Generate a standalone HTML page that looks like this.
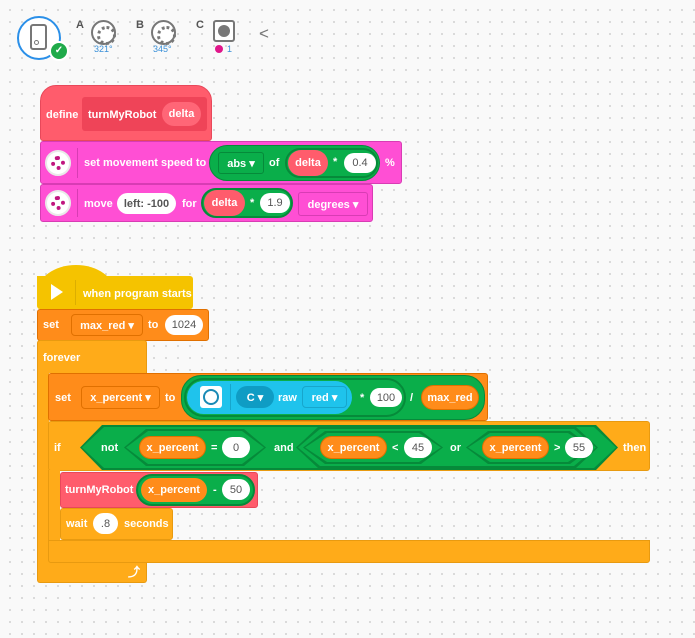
<!DOCTYPE html>
<html><head><meta charset="utf-8"><style>
*{margin:0;padding:0;box-sizing:border-box}
body{width:695px;height:638px;overflow:hidden;position:relative;background:#f9f9f9;
background-image:radial-gradient(circle,#d4d4d4 0.8px,transparent 1.2px);background-size:12px 12px;background-position:4px 4px;
font-family:"Liberation Sans",sans-serif;font-weight:bold;font-size:11px;color:#fff}
.a{position:absolute}
.t{position:absolute;white-space:nowrap;line-height:14px}
.pill{position:absolute;border-radius:20px;display:flex;align-items:center;justify-content:center;white-space:nowrap}
.w{background:#fff;color:#555;font-weight:normal}
.hex{position:absolute;clip-path:polygon(0 50%,22px 0,calc(100% - 22px) 0,100% 50%,calc(100% - 22px) 100%,22px 100%)}
.mot{position:absolute;width:25px;height:25px;border-radius:50%;border:2px solid #777;background:#fff}
.mot::before{content:"";position:absolute;left:4px;top:4px;width:13px;height:13px;border-radius:50%;border:3.5px dotted #777}
</style></head><body>

<!-- header -->
<div class="a" style="left:17px;top:16px;width:44px;height:44px;border-radius:50%;border:2px solid #2a8fe8;background:#fff"></div>
<div class="a" style="left:30px;top:24px;width:17px;height:26px;border:2px solid #777;border-radius:3px"></div>
<div class="a" style="left:34px;top:40px;width:5px;height:5px;border:1.5px solid #777;border-radius:50%"></div>
<div class="a" style="left:49px;top:41px;width:20px;height:20px;border-radius:50%;background:#1faa4a;border:2px solid #fff;font-size:10px;text-align:center;line-height:16px">✓</div>
<div class="t" style="left:76px;top:18px;color:#555;font-size:11px">A</div>
<div class="mot" style="left:91px;top:20px"></div>
<div class="t" style="left:94px;top:42px;color:#3a90d8;font-size:9px;font-weight:normal">321°</div>
<div class="t" style="left:136px;top:18px;color:#555;font-size:11px">B</div>
<div class="mot" style="left:151px;top:20px"></div>
<div class="t" style="left:153px;top:42px;color:#3a90d8;font-size:9px;font-weight:normal">345°</div>
<div class="t" style="left:196px;top:18px;color:#555;font-size:11px">C</div>
<div class="a" style="left:213px;top:20px;width:22px;height:22px;border:2px solid #777;border-radius:3px;background:#fff"></div>
<div class="a" style="left:218px;top:25px;width:12px;height:12px;border-radius:50%;background:#777"></div>
<div class="a" style="left:215px;top:45px;width:8px;height:8px;border-radius:50%;background:#e0168a"></div>
<div class="t" style="left:227px;top:42px;color:#3a90d8;font-size:9px;font-weight:normal">1</div>
<div class="t" style="left:259px;top:27px;color:#777;font-size:17px;font-weight:normal">&lt;</div>

<!-- define -->
<div class="a" style="left:40px;top:85px;width:172px;height:56px;background:#ff5c6c;border-radius:16px 16px 3px 3px;border:1px solid #e8485a"></div>
<div class="a" style="left:82px;top:97px;width:125px;height:34px;background:#ef4458;border-radius:3px"></div>
<div class="t" style="left:46px;top:108px">define</div>
<div class="t" style="left:88px;top:108px">turnMyRobot</div>
<div class="pill" style="left:162px;top:102px;width:39px;height:24px;background:#ff6677">delta</div>

<!-- set movement speed -->
<div class="a" style="left:40px;top:141px;width:362px;height:43px;background:#ff4fd4;border:1px solid #d83cb4;border-radius:3px"></div>
<div class="a" style="left:45px;top:150px;width:26px;height:26px;border-radius:50%;background:#fff;border:2px solid #e9e9e9"></div>
<div class="a" style="left:51px;top:156px;width:14px;height:14px;border-radius:50%;border:4px dotted #c0157f"></div>
<div class="a" style="left:77px;top:148px;width:1px;height:30px;background:#d83cb4"></div>
<div class="t" style="left:84px;top:156px">set movement speed to</div>
<div class="pill" style="left:209px;top:145px;width:171px;height:36px;background:#0aae4a;border:1px solid #068a3a"></div>
<div class="pill" style="left:218px;top:152px;width:46px;height:22px;background:#0aae4a;border:1px solid #068a3a;border-radius:3px">abs ▾</div>
<div class="t" style="left:269px;top:156px">of</div>
<div class="pill" style="left:285px;top:148px;width:93px;height:30px;background:#0aae4a;border:2px solid #068a3a"></div>
<div class="pill" style="left:288px;top:150px;width:40px;height:26px;background:#ff5c6c">delta</div>
<div class="t" style="left:333px;top:155px">*</div>
<div class="pill w" style="left:344px;top:153px;width:32px;height:20px">0.4</div>
<div class="t" style="left:385px;top:156px">%</div>

<!-- move -->
<div class="a" style="left:40px;top:184px;width:333px;height:38px;background:#ff4fd4;border:1px solid #d83cb4;border-radius:3px"></div>
<div class="a" style="left:45px;top:190px;width:26px;height:26px;border-radius:50%;background:#fff;border:2px solid #e9e9e9"></div>
<div class="a" style="left:51px;top:196px;width:14px;height:14px;border-radius:50%;border:4px dotted #c0157f"></div>
<div class="a" style="left:77px;top:189px;width:1px;height:28px;background:#d83cb4"></div>
<div class="t" style="left:84px;top:197px">move</div>
<div class="pill w" style="left:117px;top:193px;width:59px;height:21px;color:#555;font-weight:bold">left: -100</div>
<div class="t" style="left:182px;top:197px">for</div>
<div class="pill" style="left:201px;top:188px;width:92px;height:30px;background:#0aae4a;border:2px solid #068a3a"></div>
<div class="pill" style="left:204px;top:190px;width:41px;height:26px;background:#ff5c6c">delta</div>
<div class="t" style="left:250px;top:196px">*</div>
<div class="pill w" style="left:260px;top:193px;width:30px;height:20px">1.9</div>
<div class="pill" style="left:298px;top:192px;width:70px;height:24px;background:#ff4fd4;border:1px solid #d83cb4;border-radius:3px">degrees ▾</div>

<!-- when program starts -->
<div class="a" style="left:37px;top:265px;width:78px;height:28px;background:#f5c300;border-radius:50% 50% 0 0 / 100% 100% 0 0"></div>
<div class="a" style="left:37px;top:276px;width:156px;height:33px;background:#f5c300;border-radius:0 3px 3px 3px"></div>
<div class="a" style="left:51px;top:284px;width:0;height:0;border-left:12px solid #fff;border-top:8px solid transparent;border-bottom:8px solid transparent"></div>
<div class="a" style="left:75px;top:280px;width:1px;height:25px;background:#dcae00"></div>
<div class="t" style="left:83px;top:287px;font-size:11px">when program starts</div>

<!-- set max_red -->
<div class="a" style="left:37px;top:309px;width:172px;height:32px;background:#ff8c1a;border:1px solid #e07000;border-radius:3px"></div>
<div class="t" style="left:43px;top:318px">set</div>
<div class="pill" style="left:71px;top:314px;width:72px;height:22px;background:#ff8c1a;border:1px solid #e07000;border-radius:4px">max_red ▾</div>
<div class="t" style="left:148px;top:318px">to</div>
<div class="pill w" style="left:165px;top:315px;width:38px;height:20px">1024</div>

<!-- forever -->
<div class="a" style="left:37px;top:340px;width:110px;height:33px;background:#ffab19;border:1px solid #e89a10;border-bottom:none;border-radius:3px 3px 0 0"></div>
<div class="a" style="left:37px;top:372px;width:12px;height:200px;background:#ffab19;border-left:1px solid #e89a10"></div>
<div class="a" style="left:37px;top:562px;width:110px;height:21px;background:#ffab19;border:1px solid #e89a10;border-top:none;border-radius:0 0 3px 3px"></div>
<div class="t" style="left:43px;top:351px">forever</div>
<div class="t" style="left:128px;top:565px;font-size:12px">⤴</div>

<!-- set x_percent -->
<div class="a" style="left:48px;top:373px;width:440px;height:48px;background:#ff8c1a;border:1px solid #e07000;border-radius:3px"></div>
<div class="t" style="left:55px;top:391px">set</div>
<div class="pill" style="left:81px;top:386px;width:79px;height:23px;background:#ff8c1a;border:1px solid #e07000;border-radius:4px">x_percent ▾</div>
<div class="t" style="left:165px;top:391px">to</div>
<div class="pill" style="left:181px;top:375px;width:304px;height:45px;background:#0aae4a;border:1px solid #068a3a"></div>
<div class="pill" style="left:184px;top:378px;width:222px;height:39px;background:#0aae4a;border:2px solid #068a3a"></div>
<div class="pill" style="left:187px;top:381px;width:165px;height:33px;background:#1fc3ec"></div>
<div class="a" style="left:200px;top:386px;width:22px;height:22px;background:#fff;border-radius:3px"></div>
<div class="a" style="left:203px;top:389px;width:16px;height:16px;border:2px solid #1a8ab5;border-radius:50%"></div>
<div class="a" style="left:230px;top:384px;width:1px;height:26px;background:#17a6cc"></div>
<div class="pill" style="left:236px;top:386px;width:38px;height:22px;background:#0f9cc4">C ▾</div>
<div class="t" style="left:278px;top:391px">raw</div>
<div class="pill" style="left:302px;top:386px;width:45px;height:22px;background:#1fc3ec;border:1px solid #17a6cc;border-radius:4px">red ▾</div>
<div class="t" style="left:360px;top:391px">*</div>
<div class="pill w" style="left:370px;top:388px;width:32px;height:19px">100</div>
<div class="t" style="left:410px;top:391px">/</div>
<div class="pill" style="left:421px;top:385px;width:58px;height:25px;background:#ff8c1a;border:1px solid #e07000">max_red</div>

<!-- if -->
<div class="a" style="left:48px;top:421px;width:602px;height:50px;background:#ffab19;border:1px solid #e89a10;border-radius:3px"></div>
<div class="a" style="left:48px;top:470px;width:12px;height:72px;background:#ffab19;border-left:1px solid #e89a10"></div>
<div class="a" style="left:48px;top:540px;width:602px;height:23px;background:#ffab19;border:1px solid #e89a10;border-radius:0 0 3px 3px"></div>
<div class="t" style="left:54px;top:441px">if</div>
<div class="hex" style="left:80px;top:425px;width:538px;height:45px;background:#068a3a"></div>
<div class="hex" style="left:82px;top:427px;width:534px;height:41px;background:#0aae4a"></div>
<div class="t" style="left:101px;top:441px">not</div>
<div class="hex" style="left:124px;top:429px;width:142px;height:37px;background:#068a3a"></div>
<div class="hex" style="left:126px;top:431px;width:138px;height:33px;background:#0aae4a"></div>
<div class="pill" style="left:139px;top:436px;width:67px;height:23px;background:#ff8c1a;border:1px solid #e07000">x_percent</div>
<div class="t" style="left:211px;top:441px">=</div>
<div class="pill w" style="left:222px;top:437px;width:28px;height:21px">0</div>
<div class="t" style="left:274px;top:441px">and</div>
<div class="hex" style="left:296px;top:427px;width:302px;height:41px;background:#068a3a"></div>
<div class="hex" style="left:298px;top:429px;width:298px;height:37px;background:#0aae4a"></div>
<div class="hex" style="left:303px;top:431px;width:140px;height:33px;background:#068a3a"></div>
<div class="hex" style="left:305px;top:433px;width:136px;height:29px;background:#0aae4a"></div>
<div class="pill" style="left:320px;top:436px;width:67px;height:23px;background:#ff8c1a;border:1px solid #e07000">x_percent</div>
<div class="t" style="left:392px;top:441px">&lt;</div>
<div class="pill w" style="left:404px;top:437px;width:28px;height:21px">45</div>
<div class="t" style="left:450px;top:441px">or</div>
<div class="hex" style="left:466px;top:431px;width:126px;height:33px;background:#068a3a"></div>
<div class="hex" style="left:468px;top:433px;width:122px;height:29px;background:#0aae4a"></div>
<div class="pill" style="left:482px;top:436px;width:67px;height:23px;background:#ff8c1a;border:1px solid #e07000">x_percent</div>
<div class="t" style="left:554px;top:441px">&gt;</div>
<div class="pill w" style="left:565px;top:437px;width:28px;height:21px">55</div>
<div class="t" style="left:623px;top:441px">then</div>

<!-- turnMyRobot call -->
<div class="a" style="left:60px;top:472px;width:198px;height:36px;background:#ff5c6c;border:1px solid #e8485a;border-radius:3px"></div>
<div class="t" style="left:65px;top:483px">turnMyRobot</div>
<div class="pill" style="left:136px;top:474px;width:119px;height:32px;background:#0aae4a;border:2px solid #068a3a"></div>
<div class="pill" style="left:141px;top:478px;width:66px;height:24px;background:#ff8c1a">x_percent</div>
<div class="t" style="left:213px;top:483px">-</div>
<div class="pill w" style="left:222px;top:479px;width:28px;height:21px">50</div>

<!-- wait -->
<div class="a" style="left:60px;top:508px;width:113px;height:32px;background:#ffab19;border:1px solid #e89a10;border-radius:3px"></div>
<div class="t" style="left:66px;top:517px">wait</div>
<div class="pill w" style="left:93px;top:513px;width:25px;height:21px">.8</div>
<div class="t" style="left:124px;top:517px">seconds</div>

</body></html>
